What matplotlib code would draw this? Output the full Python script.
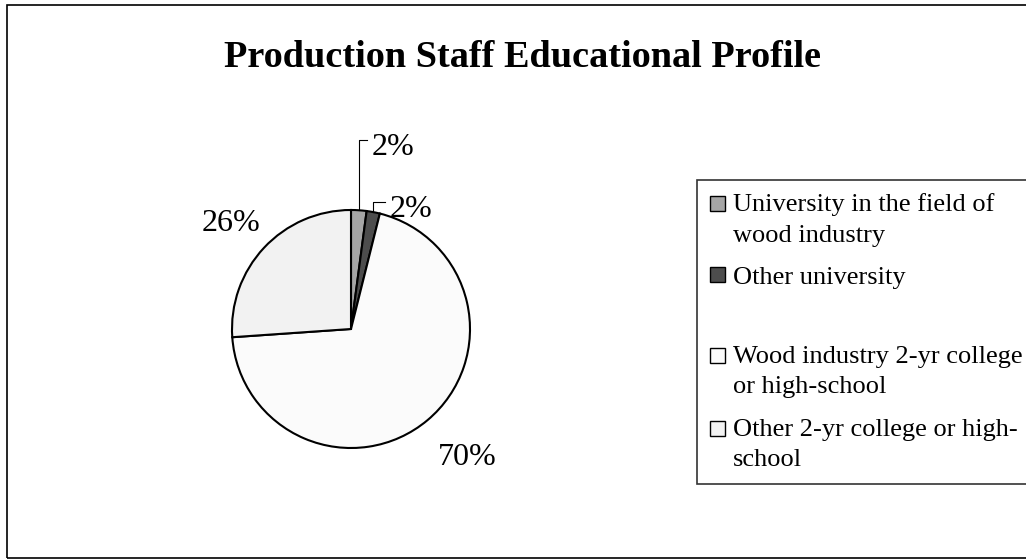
import matplotlib.pyplot as plt
from matplotlib.patches import Patch, Rectangle
from matplotlib.legend_handler import HandlerPatch
import numpy as np

plt.rcParams['font.family'] = ['Liberation Serif', 'DejaVu Serif']

categories = ["University in the field of\nwood industry",
              "Other university",
              "Wood industry 2-yr college\nor high-school",
              "Other 2-yr college or high-\nschool"]
shares = [2.1, 1.8, 70.0, 26.1]
labels = ["2%", "2%", "70%", "26%"]
colors = ["#a6a6a6", "#4d4d4d", "#fbfbfb", "#f2f2f2"]

W, H = 1026, 560
fig = plt.figure(figsize=(W / 100, H / 100), dpi=100)

# frame round the chart area (right side runs off the picture)
fig.patches.append(Rectangle((7 / W, 1 - 558 / H), 1030 / W, 553 / H,
                             transform=fig.transFigure, fill=False,
                             edgecolor="black", linewidth=1.2))

fig.text(523 / W, 1 - 67 / H, "Production Staff Educational Profile",
         ha="center", va="baseline", fontsize=27.5, fontweight="bold")

# pie: centre (351, 329), radius 119 px
cx, cy, r = 351, 329, 119
ax = fig.add_axes([(cx - r) / W, (H - cy - r) / H, 2 * r / W, 2 * r / H])
wedges, _ = ax.pie(shares, colors=colors, startangle=90, counterclock=False,
                   radius=1, wedgeprops=dict(edgecolor="black", linewidth=1.5))
ax.set_xlim(-1, 1)
ax.set_ylim(-1, 1)
ax.set_aspect("equal")
ax.axis("off")

# label anchors in units of the radius: (text x, baseline y, leader y, leader end x)
lab_pos = [(0.176, 1.466, 1.588, 0.134),
           (0.328, 0.945, 1.067, 0.286),
           (0.975, -1.143, None, None),
           (-1.008, 0.824, None, None)]
for w, lab, (tx, ty, ly, lx) in zip(wedges, labels, lab_pos):
    if ly is None:
        ax.text(tx, ty, lab, ha="center", va="baseline", fontsize=23, clip_on=False)
        continue
    ax.text(tx, ty, lab, ha="left", va="baseline", fontsize=23, clip_on=False)
    ang = np.deg2rad((w.theta1 + w.theta2) / 2)
    ex, ey = np.cos(ang), np.sin(ang)
    ax.plot([ex, ex, lx], [ey, ly, ly], color="black", linewidth=0.8,
            clip_on=False)


# square key that sits on the first line of its label (like Excel does)
def square_key(n_lines):
    def make(legend, orig_handle, xdescent, ydescent, width, height, fontsize):
        s = 0.57 * fontsize
        y0 = -ydescent + height / 2 - s / 2 + (n_lines - 1) * 0.59 * fontsize
        return Rectangle((-xdescent, y0), s, s)
    return make


handles = [Patch(facecolor=c, edgecolor="black", linewidth=1) for c in colors]
handler_map = {h: HandlerPatch(patch_func=square_key(lab.count("\n") + 1))
               for h, lab in zip(handles, categories)}
leg_labels = list(categories)
# blank row after "Other university", as in the original legend
spacer = Patch(facecolor="none", edgecolor="none")
handles.insert(2, spacer)
leg_labels.insert(2, "")
leg = fig.legend(handles, leg_labels, loc="upper left",
                 bbox_to_anchor=(697 / W, 1 - 180 / H), handler_map=handler_map,
                 fontsize=19, frameon=True, fancybox=False,
                 edgecolor="black", handlelength=0.57, handleheight=0.02,
                 handletextpad=0.3, labelspacing=0.77, borderpad=0.5,
                 borderaxespad=0)
leg.get_frame().set_linewidth(1.2)
for t in leg.get_texts():
    t.set_linespacing(1.5)
leg.get_texts()[2].set_fontsize(10)

fig.savefig("out.png", dpi=100)
